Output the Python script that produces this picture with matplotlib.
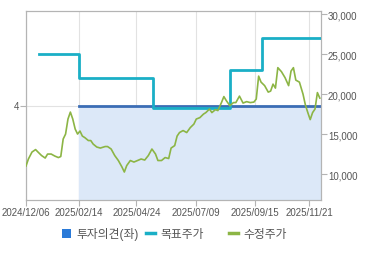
import matplotlib
matplotlib.use("Agg")
import matplotlib.pyplot as plt
from matplotlib.lines import Line2D
from matplotlib.patches import Patch

plt.rcParams["font.family"] = ["Liberation Sans", "Noto Sans CJK KR", "DejaVu Sans"]

# x axis: trading-day index since 2024/12/06
tick_pos = [0, 44, 92, 142, 191, 236]
tick_labels = ["2024/12/06", "2025/02/14", "2025/04/24", "2025/07/09", "2025/09/15", "2025/11/21"]
x_end = 246

# investment opinion (left axis)
opinion_t = [44, 246]
opinion_val = [4, 4]

# target price (right axis), step series
target_t = [11, 44, 106, 170, 197, 246]
target_val = [25000, 22000, 18200, 23000, 27000, 27000]

# adjusted close (right axis)
price_t = [0, 2, 5, 8, 10, 13, 16, 18, 21, 24, 27, 29, 31, 33, 35, 37, 39, 41, 43,
           45, 47, 49, 52, 54, 56, 59, 62, 66, 68, 71, 74, 77, 80, 82, 84, 87, 90,
           93, 96, 99, 102, 105, 108, 110, 113, 116, 119, 121, 124, 126, 128, 131,
           134, 137, 140, 142, 145, 148, 150, 153, 155, 158, 160, 163, 165, 167,
           170, 173, 175, 178, 181, 184, 187, 190, 192, 194, 196, 199, 202, 204,
           206, 208, 210, 213, 216, 219, 221, 223, 225, 228, 231, 233, 235, 237,
           239, 241, 243, 245]
price_val = [11000, 11880, 12750, 13060, 12750, 12310, 12000, 12500, 12500, 12250,
             12060, 12190, 14380, 15000, 16880, 17750, 16880, 15630, 15000, 15380,
             14750, 14560, 14190, 14190, 13750, 13380, 13250, 13440, 13440, 13130,
             12310, 11690, 10880, 10250, 11060, 11690, 11500, 11690, 11880, 11750,
             12310, 13130, 12500, 11690, 11690, 12060, 11940, 13250, 13560, 14750,
             15190, 15440, 15190, 15810, 16250, 16880, 17060, 17500, 17690, 18130,
             17690, 18060, 17940, 18940, 19690, 19190, 18560, 18940, 18940, 19750,
             18880, 19060, 18940, 19000, 19380, 22250, 21500, 21060, 20250, 20380,
             21250, 20750, 23310, 22810, 22060, 21060, 22880, 23310, 21750, 21500,
             20000, 18630, 17690, 16810, 17690, 18130, 20190, 19500]

legend_labels = ["투자의견(좌)", "목표주가", "수정주가"]

TEXT = "#555555"
GRID = "#e2e2e2"

fig = plt.figure(figsize=(3.7, 2.55), dpi=100)
ax = fig.add_axes([26 / 370, 54 / 255, 295 / 370, 189 / 255])
ax2 = ax.twinx()

ax.fill_between(opinion_t, opinion_val, 0, color="#dce8f8", zorder=1)
ax.plot(opinion_t, opinion_val, color="#3b6db5", lw=2, zorder=2)
ax.set_ylim(2.5, 5.5)
ax.set_yticks([4])
ax.set_xlim(0, x_end)
ax.set_xticks(tick_pos, labels=tick_labels)
ax.grid(True, color=GRID, lw=0.8, zorder=0)
ax.set_axisbelow(True)

ax2.step(target_t, target_val, where="post", color="#1aafc6", lw=2, zorder=3)
ax2.plot(price_t, price_val, color="#8cb545", lw=1.2, zorder=4)
ax2.set_ylim(6750, 30400)
ax2.set_yticks([10000, 15000, 20000, 25000, 30000])
ax2.yaxis.set_major_formatter(matplotlib.ticker.FuncFormatter(lambda v, p: f"{int(v):,}"))

for a in (ax, ax2):
    for s in a.spines.values():
        s.set_color("#b4b4b4")
    a.tick_params(colors="#b4b4b4", labelcolor=TEXT, labelsize=7, length=4, width=0.8, pad=1)

handles = [
    Patch(facecolor="#2a7ad8", edgecolor="none"),
    Line2D([], [], color="#1aafc6", lw=2.5),
    Line2D([], [], color="#8cb545", lw=2.5),
]
# legend items are not evenly spaced in the original, so place them one by one
for h, lab, x0 in zip(handles, legend_labels, [62, 146, 229]):
    fig.legend([h], [lab], loc="center left", bbox_to_anchor=(x0 / 370, 1 - 235 / 255),
               frameon=False, fontsize=8.5, handlelength=0.75, handleheight=0.9,
               handletextpad=0.45, borderpad=0, borderaxespad=0, labelcolor=TEXT)

fig.savefig("out.png", dpi=100)
